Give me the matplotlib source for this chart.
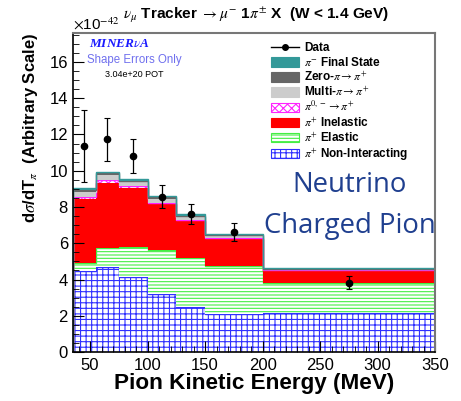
import numpy as np
import matplotlib
matplotlib.use('Agg')
import matplotlib.pyplot as plt
from matplotlib.patches import Patch
from matplotlib.lines import Line2D

plt.rcParams['font.family'] = ['Liberation Sans', 'DejaVu Sans']
plt.rcParams['mathtext.fontset'] = 'stix'
plt.rcParams['hatch.linewidth'] = 0.8

# bin edges (MeV)
edges = np.array([35, 55, 75, 100, 125, 150, 200, 350])

# stacked components (x 1e-42)
nonint = [4.49, 4.71, 4.12, 3.18, 2.50, 2.10, 2.13]
elastic = [0.44, 1.01, 1.69, 2.45, 2.70, 2.66, 1.66]
inelastic = [3.52, 3.63, 3.22, 2.52, 2.03, 1.46, 0.68]
pi0 = [0.12, 0.12, 0.10, 0.08, 0.07, 0.05, 0.03]
multi = [0.26, 0.28, 0.24, 0.22, 0.16, 0.12, 0.06]
zero = [0.10, 0.10, 0.09, 0.09, 0.07, 0.06, 0.03]
pim = [0.10, 0.10, 0.09, 0.09, 0.07, 0.06, 0.03]

# data
data_x = [45, 65, 87.5, 112.5, 137.5, 175, 275]
data_y = [11.37, 11.73, 10.81, 8.57, 7.60, 6.60, 3.82]
data_err = [2.0, 1.2, 0.93, 0.62, 0.55, 0.49, 0.35]

fig = plt.figure(figsize=(4.61, 4.01), dpi=100)
ax = fig.add_axes([0.158, 0.122, 0.786, 0.796])

widths = np.diff(edges)
comps = [
    (nonint, 'white', '#3030ff', '+++', r'$\pi^{+}$ Non-Interacting'),
    (elastic, 'white', '#44ee44', '-----', r'$\pi^{+}$ Elastic'),
    (inelastic, '#ff0000', '#ff0000', None, r'$\pi^{+}$ Inelastic'),
    (pi0, 'white', '#ff22ff', 'xxxx', r'$\pi^{0,-}\rightarrow\pi^{+}$'),
    (multi, '#cccccc', '#cccccc', None, r'Multi-$\pi\rightarrow\pi^{+}$'),
    (zero, '#666666', '#666666', None, r'Zero-$\pi\rightarrow\pi^{+}$'),
    (pim, '#339999', '#339999', None, r'$\pi^{-}$ Final State'),
]
bottom = np.zeros(len(widths))
handles = []
for vals, fc, ec, hatch, label in comps:
    vals = np.array(vals)
    ax.bar(edges[:-1], vals, width=widths, bottom=bottom, align='edge',
           facecolor=fc, edgecolor=ec, hatch=hatch, linewidth=0)
    ax.stairs(bottom + vals, edges, color=ec, linewidth=1.0)
    bottom = bottom + vals
    handles.append(Patch(facecolor=fc, edgecolor=ec, hatch=hatch, linewidth=0.8))

ax.errorbar(data_x, data_y, yerr=data_err, fmt='o', color='black',
            markersize=4.5, elinewidth=0.9, capsize=2, capthick=0.8, zorder=5)

handles = handles[::-1]
labels = [c[4] for c in comps][::-1]
handles.insert(0, Line2D([], [], color='black', marker='o', markersize=4, linewidth=1))
labels.insert(0, 'Data')
leg = ax.legend(handles, labels, loc='upper left', bbox_to_anchor=(0.52, 1.0),
                frameon=False, prop={'weight': 'bold', 'size': 8.5},
                handlelength=2.4, handleheight=0.9, labelspacing=0.12,
                handletextpad=0.45, borderaxespad=0.4)

ax.set_xlim(35, 350)
ax.set_ylim(0, 17.6)
ax.set_xticks([50, 100, 150, 200, 250, 300, 350])
ax.set_yticks(range(0, 17, 2))
ax.set_xticks(np.arange(40, 351, 10), minor=True)
ax.set_yticks(np.arange(0, 17.6, 0.5), minor=True)
ax.tick_params(which='both', direction='in', labelsize=12)
ax.tick_params(which='major', length=8, width=0.8)
ax.tick_params(which='minor', length=4, width=0.6)
ax.tick_params(axis='x', pad=4)
for s in ['top', 'right']:
    ax.spines[s].set_color('#777777')
    ax.spines[s].set_linewidth(1.5)
for s in ['left', 'bottom']:
    ax.spines[s].set_linewidth(1.2)

ax.set_xlabel('Pion Kinetic Energy (MeV)', fontsize=16.2, fontweight='bold', labelpad=0)
ax.set_ylabel(r'd$\sigma$/dT$_{\pi}$  (Arbitrary Scale)', fontsize=12,
              fontweight='bold', loc='top')
ax.yaxis.set_label_coords(-0.09, 1.0)

fig.text(0.158, 0.918, r'$\times$10$^{-42}$', fontsize=11, ha='left', va='bottom')
fig.text(0.556, 0.962,
         r'$\nu_{\mu}$ Tracker $\rightarrow\mu^{-}$ 1$\pi^{\pm}$ X  (W < 1.4 GeV)',
         fontsize=11.1, fontweight='bold', ha='center', va='center')

ax.text(0.045, 0.955, r'MINER$\nu$A', transform=ax.transAxes, fontsize=9.5,
        fontweight='bold', style='italic', family='Liberation Serif', color='#1a1aff')
ax.text(0.04, 0.905, 'Shape Errors Only', transform=ax.transAxes, fontsize=8.3,
        color='#7070ee')
ax.text(0.09, 0.862, '3.04e+20 POT', transform=ax.transAxes, fontsize=6.5)

ax.text(0.765, 0.46, 'Neutrino\nCharged Pion', transform=ax.transAxes, fontsize=19.8,
        family='Open Sans', color='#1f3f8f', ha='center', va='center',
        linespacing=1.6)

fig.savefig('out.png', dpi=100)
